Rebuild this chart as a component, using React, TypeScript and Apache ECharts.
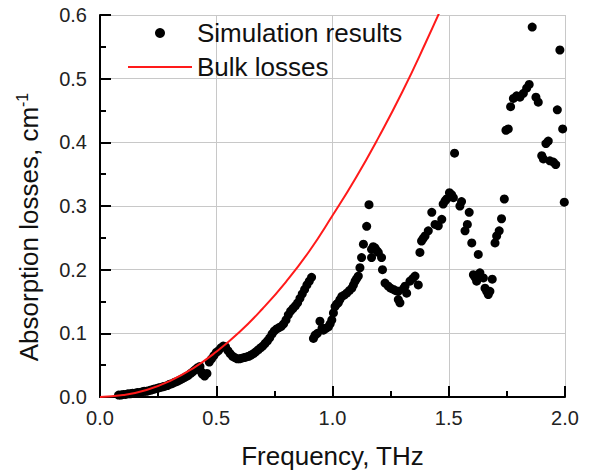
import React, { useEffect, useRef } from "react";
import * as echarts from "echarts";

// Simulation results: dense low-frequency band (frequency THz, loss cm^-1)
const simLowFreq = [
  0.08, 0.09, 0.10, 0.11, 0.12, 0.13, 0.14, 0.15, 0.16, 0.17, 0.18, 0.19, 0.20,
  0.21, 0.22, 0.23, 0.24, 0.25, 0.26, 0.27, 0.28, 0.29, 0.30, 0.31, 0.32, 0.33,
  0.34, 0.35, 0.36, 0.37, 0.38, 0.39, 0.40, 0.41, 0.42, 0.43, 0.435, 0.44, 0.45,
  0.46, 0.47, 0.48, 0.49, 0.50, 0.51, 0.52, 0.53, 0.54, 0.55, 0.56, 0.57, 0.58,
  0.59, 0.60, 0.61, 0.62, 0.63, 0.64, 0.65, 0.66, 0.67, 0.68, 0.69, 0.70, 0.71,
  0.72, 0.73, 0.74, 0.75, 0.76, 0.77, 0.78, 0.79, 0.80, 0.81, 0.82, 0.83, 0.84,
  0.85, 0.86, 0.87, 0.88, 0.89, 0.90, 0.91,
];
const simLowLoss = [
  0.003, 0.003, 0.004, 0.004, 0.005, 0.005, 0.006, 0.006, 0.007, 0.007, 0.008, 0.009, 0.009,
  0.010, 0.011, 0.012, 0.013, 0.014, 0.015, 0.016, 0.017, 0.018, 0.020, 0.021, 0.023, 0.024,
  0.026, 0.028, 0.030, 0.032, 0.034, 0.037, 0.040, 0.043, 0.046, 0.048, 0.040, 0.036, 0.033,
  0.037, 0.055, 0.060, 0.065, 0.070, 0.073, 0.077, 0.080, 0.079, 0.073, 0.068, 0.064, 0.062,
  0.060, 0.060, 0.061, 0.062, 0.063, 0.064, 0.066, 0.068, 0.071, 0.074, 0.077, 0.080, 0.084,
  0.088, 0.093, 0.099, 0.104, 0.107, 0.109, 0.111, 0.115, 0.121, 0.129, 0.135, 0.139, 0.143,
  0.148, 0.155, 0.162, 0.169, 0.176, 0.182, 0.188,
];

// Simulation results: scattered points above 0.9 THz
const simHighFreq = [
  0.918, 0.925, 0.935, 0.946, 0.955, 0.961, 0.972, 0.982, 0.990, 0.997, 1.004, 1.011,
  1.018, 1.025, 1.032, 1.040, 1.050, 1.061, 1.072, 1.083, 1.090, 1.097, 1.104, 1.111,
  1.118, 1.125, 1.133, 1.147, 1.157, 1.168, 1.168, 1.175, 1.183, 1.190, 1.197, 1.211,
  1.215, 1.226, 1.240, 1.250, 1.262, 1.272, 1.283, 1.283, 1.290, 1.305, 1.312, 1.319,
  1.333, 1.345, 1.355, 1.369, 1.376, 1.383, 1.390, 1.398, 1.412, 1.427, 1.441, 1.455,
  1.470, 1.476, 1.484, 1.491, 1.503, 1.512, 1.520, 1.525, 1.548, 1.555, 1.570, 1.580,
  1.588, 1.599, 1.606, 1.613, 1.620, 1.627, 1.634, 1.649, 1.656, 1.663, 1.670, 1.677,
  1.687, 1.699, 1.706, 1.717, 1.727, 1.739, 1.746, 1.756, 1.766, 1.778, 1.792, 1.806,
  1.821, 1.835, 1.846, 1.859, 1.875, 1.885, 1.900, 1.907, 1.918, 1.928, 1.935, 1.950,
  1.960, 1.967, 1.978, 1.990, 1.997,
];
const simHighLoss = [
  0.092, 0.097, 0.100, 0.119, 0.108, 0.105, 0.108, 0.110, 0.115, 0.121, 0.132, 0.142,
  0.146, 0.148, 0.153, 0.158, 0.160, 0.163, 0.167, 0.171, 0.176, 0.182, 0.186, 0.190,
  0.203, 0.219, 0.240, 0.268, 0.302, 0.232, 0.219, 0.236, 0.234, 0.230, 0.227, 0.219,
  0.200, 0.179, 0.174, 0.171, 0.169, 0.167, 0.166, 0.153, 0.148, 0.170, 0.174, 0.163,
  0.182, 0.186, 0.190, 0.176, 0.227, 0.245, 0.249, 0.253, 0.261, 0.290, 0.271, 0.269,
  0.279, 0.303, 0.308, 0.311, 0.321, 0.318, 0.313, 0.383, 0.300, 0.307, 0.261, 0.271,
  0.290, 0.242, 0.192, 0.188, 0.182, 0.224, 0.195, 0.187, 0.171, 0.166, 0.161, 0.166,
  0.185, 0.242, 0.253, 0.261, 0.280, 0.311, 0.419, 0.421, 0.456, 0.469, 0.473, 0.471,
  0.477, 0.485, 0.491, 0.581, 0.471, 0.463, 0.379, 0.374, 0.398, 0.402, 0.371, 0.369,
  0.365, 0.451, 0.545, 0.421, 0.306,
];

// Bulk losses curve
const bulkFreq = [0, 0.1, 0.2, 0.3, 0.4, 0.5, 0.6, 0.7, 0.8, 0.9, 1.0, 1.1, 1.2, 1.3, 1.4, 1.5];
const bulkLoss = [0, 0.003, 0.011, 0.025, 0.045, 0.071, 0.102, 0.139, 0.181, 0.229, 0.285, 0.344, 0.409, 0.479, 0.556, 0.637];

// Axis ticks
const xTicks = ["0.0", "0.5", "1.0", "1.5", "2.0"];
const yTicks = ["0.0", "0.1", "0.2", "0.3", "0.4", "0.5", "0.6"];

const FONT = "'Liberation Sans', Arial, sans-serif";

export default function App() {
  const ref = useRef<HTMLDivElement>(null);
  useEffect(() => {
    if (!ref.current) return;
    const chart = echarts.init(ref.current, null, { renderer: "svg" });
    const simData = [
      ...simLowFreq.map((f, i) => [f, simLowLoss[i]]),
      ...simHighFreq.map((f, i) => [f, simHighLoss[i]]),
    ];
    const bulkData = bulkFreq.map((f, i) => [f, bulkLoss[i]]);

    const xMax = Number(xTicks[xTicks.length - 1]);
    const yMax = Number(yTicks[yTicks.length - 1]);

    chart.setOption({
      animation: false,
      backgroundColor: "#fff",
      textStyle: { fontFamily: FONT },
      grid: { left: 100, right: 26, top: 15, bottom: 78, containLabel: false },
      legend: {
        orient: "vertical",
        left: 123,
        top: 13,
        itemWidth: 64,
        itemHeight: 10,
        itemGap: 4,
        textStyle: { fontSize: 26, color: "#111", fontFamily: FONT, lineHeight: 30 },
        data: [
          { name: "Simulation results", icon: "circle" },
          { name: "Bulk losses", icon: "path://M0,0L64,0L64,2L0,2Z" },
        ],
      },
      xAxis: {
        type: "value",
        min: 0,
        max: xMax,
        interval: 0.5,
        axisLine: { show: true, onZero: false, lineStyle: { color: "#000000", width: 2, opacity: 1 } },
        axisTick: { show: true, inside: true, length: 11, lineStyle: { color: "#000000", width: 2, opacity: 1 } },
        minorTick: { show: true, splitNumber: 2, length: 6, lineStyle: { color: "#000000", width: 2, opacity: 1 } },
        splitLine: { show: true, showMinLine: false, lineStyle: { color: "#c8c8c8", width: 1 } },
        axisLabel: {
          fontSize: 20,
          color: "#222",
          margin: 11,
          fontFamily: FONT,
          formatter: (v: number) => xTicks[Math.round(v / 0.5)] ?? v.toFixed(1),
        },
        name: "Frequency, THz",
        nameLocation: "middle",
        nameGap: 46,
        nameTextStyle: { fontSize: 26, color: "#111", fontFamily: FONT },
      },
      yAxis: {
        type: "value",
        min: 0,
        max: yMax,
        interval: 0.1,
        axisLine: { show: true, onZero: false, lineStyle: { color: "#000000", width: 2, opacity: 1 } },
        axisTick: { show: true, inside: true, length: 11, lineStyle: { color: "#000000", width: 2, opacity: 1 } },
        minorTick: { show: true, splitNumber: 2, length: 6, lineStyle: { color: "#000000", width: 2, opacity: 1 } },
        splitLine: { show: true, showMinLine: false, lineStyle: { color: "#c8c8c8", width: 1 } },
        axisLabel: {
          fontSize: 20,
          color: "#222",
          margin: 13,
          fontFamily: FONT,
          formatter: (v: number) => yTicks[Math.round(v / 0.1)] ?? v.toFixed(1),
        },
        name: "{t|Absorption losses, cm}{s|-1}",
        nameLocation: "middle",
        nameGap: 56,
        nameTextStyle: {
          color: "#111",
          padding: [0, 42, 0, 0],
          rich: {
            t: { fontSize: 26, fontFamily: FONT, color: "#111", lineHeight: 30 },
            s: { fontSize: 16, fontFamily: FONT, color: "#111", verticalAlign: "top", lineHeight: 30 },
          },
        },
      },
      series: [
        {
          name: "Simulation results",
          type: "scatter",
          data: simData,
          symbol: "circle",
          symbolSize: 9,
          itemStyle: { color: "#000", opacity: 1 },
          z: 3,
        },
        {
          name: "Bulk losses",
          type: "line",
          data: bulkData,
          smooth: true,
          symbol: "none",
          clip: true,
          lineStyle: { color: "#ff1a1a", width: 2 },
          itemStyle: { color: "#ff1a1a" },
          z: 4,
        },
      ],
    });

    return () => chart.dispose();
  }, []);
  return (
    <div
      ref={ref}
      style={{ position: "fixed", left: 0, top: 0, width: 591, height: 475, background: "#fff" }}
    />
  );
}
